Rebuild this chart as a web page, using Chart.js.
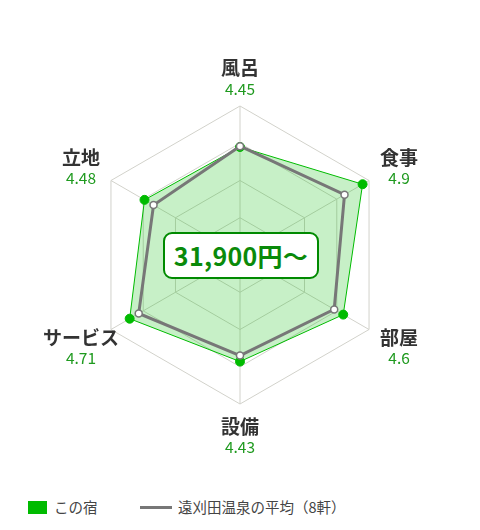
<!DOCTYPE html>
<html>
<head>
<meta charset="utf-8">
<script src="https://cdn.jsdelivr.net/npm/chart.js@4"></script>
<style>
  body { margin: 0; background: #fff; font-family: "Noto Sans CJK JP", sans-serif; }
  #wrap { position: relative; width: 480px; height: 530px; }
  #chartBox { position: absolute; left: 0; top: 0; width: 480px; height: 480px; }
  #price {
    position: absolute; left: 163px; top: 232px; width: 152px; height: 43px;
    border: 2px solid #008a00; border-radius: 9px; background: #fff;
    color: #0a8a0a; font-weight: bold; font-size: 25px; line-height: 43px; text-align: center;
    letter-spacing: 0.3px;
  }
  #legend { position: absolute; left: 28px; top: 497px; font-size: 14.5px; color: #444; line-height: 20px; }
  .item { position: absolute; top: 0; white-space: nowrap; }
  .box { display: inline-block; width: 19px; height: 13px; background: #00bb00; vertical-align: -1px; margin-right: 7px; }
  .line { display: inline-block; width: 32px; height: 3px; background: #777; vertical-align: 4px; margin-right: 6px; }
</style>
</head>
<body>
<div id="wrap">
  <div id="chartBox"><canvas id="radarChart"></canvas></div>
  <div id="price">31,900円～</div>
  <div id="legend">
    <span class="item" style="left:0"><span class="box"></span>この宿</span>
    <span class="item" style="left:112px"><span class="line"></span>遠刈田温泉の平均（8軒）</span>
  </div>
</div>
<script>
const categories = ['風呂', '食事', '部屋', '設備', 'サービス', '立地'];
const hotel_scores = [4.45, 4.9, 4.6, 4.43, 4.71, 4.48];
const area_avg = [4.46, 4.62, 4.46, 4.35, 4.57, 4.34];
const hotel_label = 'この宿';
const avg_label = '遠刈田温泉の平均（8軒）';

// 各軸の名前と点数を外側に描く
const pointTextPlugin = {
  id: 'pointText',
  afterDraw(chart) {
    const scale = chart.scales.r;
    const ctx = chart.ctx;
    ctx.save();
    ctx.textAlign = 'center';
    ctx.textBaseline = 'middle';
    categories.forEach((name, i) => {
      const p = scale.getPointPosition(i, scale.drawingArea);
      let dx = 0, nameDy, valDy;
      if (Math.abs(p.x - scale.xCenter) < 2) {
        if (p.y < scale.yCenter) { nameDy = -38; valDy = -17; }
        else { nameDy = 23; valDy = 43; }
      } else {
        dx = p.x > scale.xCenter ? 30 : -30;
        if (p.y < scale.yCenter) { nameDy = -23; valDy = -2; }
        else { nameDy = 8; valDy = 29; }
      }
      ctx.font = 'bold 19px "Noto Sans CJK JP"';
      ctx.fillStyle = '#333';
      ctx.fillText(name, p.x + dx, p.y + nameDy);
      ctx.font = '15.5px "Noto Sans CJK JP"';
      ctx.fillStyle = '#1f9a1f';
      ctx.fillText(String(hotel_scores[i]), p.x + dx, p.y + valDy);
    });
    ctx.restore();
  }
};

function drawRadarChart() {
  const ctx = document.getElementById('radarChart');

  new Chart(ctx, {
    type: 'radar',
    data: {
      labels: categories,
      datasets: [{
        label: hotel_label,
        data: hotel_scores,
        order: 2,
        fill: true,
        backgroundColor: 'rgba(0, 187, 0, 0.22)',
        borderColor: '#00bb00',
        borderWidth: 1,
        pointRadius: 4.5,
        pointBackgroundColor: '#00bb00',
        pointBorderColor: '#00bb00',
        pointBorderWidth: 1,
      }, {
        label: avg_label,
        data: area_avg,
        order: 1,
        fill: false,
        borderColor: '#777',
        borderWidth: 3,
        pointRadius: 3.5,
        pointBackgroundColor: '#fff',
        pointBorderColor: '#777',
        pointBorderWidth: 1.5,
      }]
    },
    options: {
      responsive: true,
      maintainAspectRatio: false,
      animation: false,
      layout: {
        padding: { top: 106, bottom: 76, left: 0, right: 0 }
      },
      plugins: {
        legend: { display: false },
        tooltip: { enabled: false }
      },
      scales: {
        r: {
          min: 3,
          max: 5,
          ticks: { display: false, stepSize: 0.5 },
          pointLabels: { display: false },
          grid: { color: '#d2d2cb', lineWidth: 1 },
          angleLines: { color: '#d2d2cb', lineWidth: 1 }
        }
      }
    },
    plugins: [pointTextPlugin]
  });
}

drawRadarChart();
</script>
</body>
</html>
